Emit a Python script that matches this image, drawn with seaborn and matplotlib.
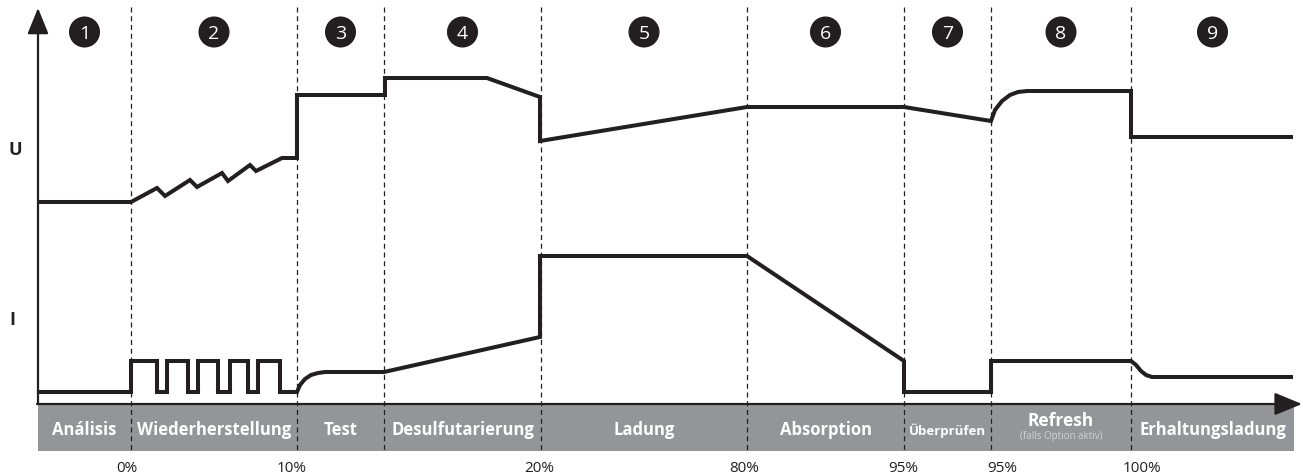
import numpy as np
import pandas as pd
import matplotlib
matplotlib.use('Agg')
import matplotlib.pyplot as plt
import seaborn as sns

# Phasen (Grenzen in Zeichnungseinheiten, links = Achse, rechts = Ende des Bandes)
phase_edges = [38, 131, 297, 384, 541, 747, 904, 991, 1131, 1294]
phase_names = ['Análisis', 'Wiederherstellung', 'Test', 'Desulfutarierung', 'Ladung',
               'Absorption', 'Überprüfen', 'Refresh', 'Erhaltungsladung']
phase_numbers = ['1', '2', '3', '4', '5', '6', '7', '8', '9']

# Prozentangaben unter den Grenzen (Index der Grenze -> Text)
pct_edges = [1, 2, 4, 5, 6, 7, 8]
pct_labels = ['0%', '10%', '20%', '80%', '95%', '95%', '100%']

# Spannung U
u_x = [38, 131, 157, 165, 190, 197, 222, 228, 250, 256, 282, 297, 297, 385, 385, 487,
       540, 540, 747, 904, 991, 995, 1002, 1010, 1018, 1027, 1131, 1131, 1293]
u_y = [203, 203, 189, 197, 181, 188, 174, 182, 166, 172, 159, 159, 96, 96, 79, 79,
       98, 142, 108, 108, 122, 111, 102, 96, 93, 92, 92, 138, 138]

# Strom I
i_x = [38, 131, 131, 157, 157, 167, 167, 188, 188, 198, 198, 218, 218, 230, 230, 248,
       248, 258, 258, 280, 280, 297, 300, 305, 311, 318, 325, 384, 540, 540, 747, 904,
       904, 991, 991, 1131, 1136, 1141, 1146, 1152, 1293]
i_y = [393, 393, 362, 362, 393, 393, 362, 362, 393, 393, 362, 362, 393, 393, 362, 362,
       393, 393, 362, 362, 393, 393, 386, 380, 376, 374, 373, 373, 338, 257, 257, 362,
       393, 393, 362, 362, 366, 372, 376, 378, 378]

sns.set_theme(style='white')
plt.rcParams['font.family'] = ['Open Sans', 'DejaVu Sans']

dark = '#231f20'
grey = '#939598'

fig = plt.figure(figsize=(13.03, 4.77), dpi=100)
ax = fig.add_axes([0, 0, 1, 1])
ax.set_xlim(0, 1303)
ax.set_ylim(477, 0)
ax.axis('off')

# graues Band mit Phasennamen
ax.fill_between([phase_edges[0], phase_edges[-1]], 405, 452, color=grey, lw=0, zorder=0)

# gestrichelte Phasengrenzen
ax.vlines(phase_edges[1:-1], 8, 452, colors=dark, lw=0.9, linestyles=(0, (4, 3)), zorder=1)

# Kurven
sns.lineplot(x=u_x, y=u_y, sort=False, estimator=None, color=dark, lw=2.9,
             solid_joinstyle='miter', solid_capstyle='butt', ax=ax, zorder=3)
sns.lineplot(x=i_x, y=i_y, sort=False, estimator=None, color=dark, lw=2.9,
             solid_joinstyle='miter', solid_capstyle='butt', ax=ax, zorder=3)

# Achsen mit Pfeilen
ax.annotate('', xy=(38, 9), xytext=(38, 405),
            arrowprops=dict(arrowstyle='-|>,head_length=1.6,head_width=0.65', lw=1.6,
                            color=dark, shrinkA=0, shrinkB=0, mutation_scale=10), zorder=4)
ax.annotate('', xy=(1302, 405), xytext=(37, 405),
            arrowprops=dict(arrowstyle='-|>,head_length=1.7,head_width=0.7', lw=1.6,
                            color=dark, shrinkA=0, shrinkB=0, mutation_scale=10), zorder=4)

ax.text(9, 150, 'U', ha='left', va='center', fontsize=13, fontweight='bold', color=dark)
ax.text(9, 320, 'I', ha='left', va='center', fontsize=13, fontweight='bold', color=dark)

# Nummern und Namen der Phasen
centers = [(a + b) / 2 for a, b in zip(phase_edges[:-1], phase_edges[1:])]
sns.scatterplot(x=centers, y=[33] * len(centers), s=500, color=dark, edgecolor='none',
                ax=ax, zorder=5, legend=False)
for cx, num, name in zip(centers, phase_numbers, phase_names):
    ax.text(cx, 34, num, ha='center', va='center', fontsize=14, color='white', zorder=6)
    if name == 'Refresh':
        ax.text(cx, 421, name, ha='center', va='center', fontsize=12.5,
                fontweight='bold', color='white')
        ax.text(cx, 437, '(falls Option aktiv)', ha='center', va='center',
                fontsize=7, color='#d1d3d4')
    elif name == 'Überprüfen':
        ax.text(cx, 431, name, ha='center', va='center', fontsize=9.5,
                fontweight='bold', color='white')
    else:
        ax.text(cx, 430, name, ha='center', va='center', fontsize=12,
                fontweight='bold', color='white')

# Prozentwerte
nudges = [-4, -5, -2, -3, -1, 11, 11]
for idx, lab, dx in zip(pct_edges, pct_labels, nudges):
    ax.text(phase_edges[idx] + dx, 469, lab, ha='center', va='center', fontsize=11, color=dark)

fig.savefig('out.png', dpi=100)
